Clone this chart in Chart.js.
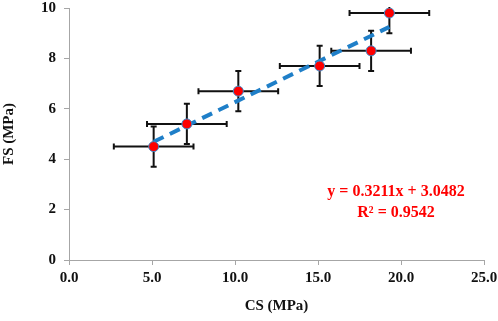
<!DOCTYPE html>
<html><head><meta charset="utf-8">
<script src="https://cdn.jsdelivr.net/npm/chart.js@4.4.1/dist/chart.umd.min.js"></script>
<style>html,body{margin:0;padding:0;background:#fff;}#wrap{width:498px;height:321px;}</style>
</head><body><div id="wrap"><canvas id="c" width="498" height="321"></canvas></div>
<script>
const csValues = [5.1, 7.1, 10.2, 15.1, 18.2, 19.3];
const fsValues = [4.5, 5.4, 6.7, 7.7, 8.3, 9.8];
const csErrors = [2.4, 2.4, 2.4, 2.4, 2.4, 2.4];
const fsErrors = [0.8, 0.8, 0.8, 0.8, 0.8, 0.8];
const trendX = [5.1, 19.3];
const trendY = [4.69, 9.25];
const xTicks = [0, 5, 10, 15, 20, 25];
const yTicks = [0, 2, 4, 6, 8, 10];
const equationLines = ['y = 0.3211x + 3.0482', 'R² = 0.9542'];
const equationAnchor = {x: 19.7, y: [2.71, 1.87]};

const FONT = '"Liberation Serif", "Times New Roman", serif';

const errorBars = {
  id: 'errorBars',
  beforeDatasetsDraw(chart) {
    const {ctx, chartArea, scales: {x, y}} = chart;
    ctx.save();
    ctx.beginPath();
    ctx.rect(chartArea.left, chartArea.top - 1, chartArea.width + 1, chartArea.height + 1);
    ctx.clip();
    ctx.strokeStyle = '#111';
    ctx.lineWidth = 2;
    const cap = 3;
    csValues.forEach((cx, i) => {
      const cy = fsValues[i];
      const px = x.getPixelForValue(cx), py = y.getPixelForValue(cy);
      const x1 = x.getPixelForValue(cx - csErrors[i]), x2 = x.getPixelForValue(cx + csErrors[i]);
      const y1 = y.getPixelForValue(cy - fsErrors[i]), y2 = y.getPixelForValue(cy + fsErrors[i]);
      ctx.beginPath();
      ctx.moveTo(x1, py); ctx.lineTo(x2, py);
      ctx.moveTo(x1, py - cap); ctx.lineTo(x1, py + cap);
      ctx.moveTo(x2, py - cap); ctx.lineTo(x2, py + cap);
      ctx.moveTo(px, y1); ctx.lineTo(px, y2);
      ctx.moveTo(px - cap, y1); ctx.lineTo(px + cap, y1);
      ctx.moveTo(px - cap, y2); ctx.lineTo(px + cap, y2);
      ctx.stroke();
    });
    ctx.restore();
  },
  afterDatasetsDraw(chart) {
    const {ctx, scales: {x, y}} = chart;
    ctx.save();
    ctx.fillStyle = '#ff0000';
    ctx.font = 'bold 16px ' + FONT;
    ctx.textAlign = 'center';
    ctx.textBaseline = 'middle';
    equationLines.forEach((t, i) => {
      ctx.fillText(t, x.getPixelForValue(equationAnchor.x), y.getPixelForValue(equationAnchor.y[i]));
    });
    ctx.restore();
  }
};

new Chart(document.getElementById('c'), {
  type: 'scatter',
  data: {
    datasets: [
      {
        type: 'line',
        data: trendX.map((v, i) => ({x: v, y: trendY[i]})),
        borderColor: '#1f7fc8',
        borderWidth: 4,
        borderDash: [11, 7],
        pointRadius: 0,
        fill: false,
        order: 2
      },
      {
        data: csValues.map((v, i) => ({x: v, y: fsValues[i]})),
        backgroundColor: '#ff0000',
        borderColor: '#3a8fd0',
        borderWidth: 1,
        pointRadius: 5,
        order: 1
      }
    ]
  },
  options: {
    responsive: false,
    animation: false,
    devicePixelRatio: 1,
    layout: {padding: {top: 8, right: 14, left: 0, bottom: 6}},
    plugins: {legend: {display: false}, tooltip: {enabled: false}},
    scales: {
      x: {
        type: 'linear', min: 0, max: 25,
        afterBuildTicks: s => { s.ticks = xTicks.map(v => ({value: v})); },
        afterFit: s => { s.paddingRight = 0; s.paddingLeft = 0; },
        ticks: {color: '#111', font: {family: FONT, size: 15, weight: 'bold'}, callback: v => Number(v).toFixed(1), padding: 4, maxRotation: 0},
        grid: {drawOnChartArea: false, drawTicks: true, tickLength: 5, color: '#a6a6a6'},
        border: {color: '#a6a6a6', width: 1},
        title: {display: true, text: 'CS (MPa)', color: '#111', font: {family: FONT, size: 15, weight: 'bold'}, padding: {top: 6, bottom: 0}}
      },
      y: {
        type: 'linear', min: 0, max: 10,
        afterBuildTicks: s => { s.ticks = yTicks.map(v => ({value: v})); },
        afterFit: s => { s.paddingTop = 0; s.paddingBottom = 0; },
        ticks: {color: '#111', font: {family: FONT, size: 15, weight: 'bold'}, padding: 8},
        grid: {drawOnChartArea: false, drawTicks: true, tickLength: 5, color: '#a6a6a6'},
        border: {color: '#a6a6a6', width: 1},
        title: {display: true, text: 'FS (MPa)', color: '#111', font: {family: FONT, size: 15, weight: 'bold'}, padding: {top: 0, bottom: 15}}
      }
    }
  },
  plugins: [errorBars]
});
</script></body></html>
